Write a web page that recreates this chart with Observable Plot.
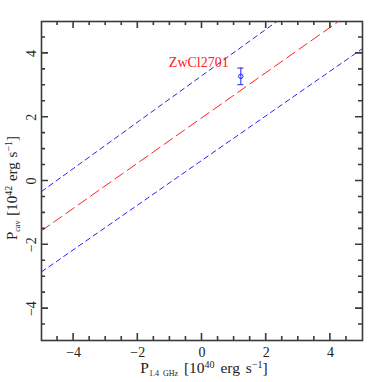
<!DOCTYPE html>
<html>
<head>
<meta charset="utf-8">
<script src="https://cdn.jsdelivr.net/npm/d3@7"></script>
<script src="https://cdn.jsdelivr.net/npm/@observablehq/plot@0.6"></script>
<style>
  html, body { margin: 0; padding: 0; background: #fff; }
  #chart svg { display: block; }
</style>
</head>
<body>
<div id="chart"></div>
<script>
// ---- data ----
const xMajor = [-4, -2, 0, 2, 4];
const yMajor = [-4, -2, 0, 2, 4];
const minorTicks = [-4.5, -3.5, -3, -2.5, -1.5, -1, -0.5, 0.5, 1, 1.5, 2.5, 3, 3.5, 4.5];
// fit line (red) and scatter bounds (blue), as endpoints
const fitLine = [{x: -5, y: -1.56}, {x: 4.25, y: 5}];
const upperLine = [{x: -5, y: -0.33}, {x: 2.33, y: 5}];
const lowerLine = [{x: -5, y: -2.85}, {x: 5, y: 4.15}];
// data point ZwCl2701
const pointName = ["ZwCl2701"];
const pointX = [1.21];
const pointY = [3.28];
const pointErr = [0.26];
const labelX = [-0.1];
const labelY = [3.72];

const points = pointName.map((n, i) => ({name: n, x: pointX[i], y: pointY[i], lo: pointY[i] - pointErr[i], hi: pointY[i] + pointErr[i], lx: labelX[i], ly: labelY[i]}));

const font = "Liberation Serif, Times New Roman, serif";
const frameColor = "#3a3a3a";
const W = 382, H = 382, ML = 41, MR = 20, MT = 21, MB = 42;
const majorLen = 7, minorLen = 4;
const fmt = d => d < 0 ? "\u2212" + Math.abs(d) : String(d);

const xs = d3.scaleLinear([-5, 5], [ML, W - MR]);
const ys = d3.scaleLinear([-5, 5], [H - MB, MT]);

const plot = Plot.plot({
  width: W,
  height: H,
  marginLeft: ML,
  marginRight: MR,
  marginTop: MT,
  marginBottom: MB,
  style: {fontFamily: font, background: "#fff"},
  x: {domain: [-5, 5], axis: null},
  y: {domain: [-5, 5], axis: null},
  marks: [
    // tick labels
    Plot.text(xMajor, {x: d => d, frameAnchor: "bottom", dy: 7, lineAnchor: "top", fontSize: 14, fill: "#222", text: fmt}),
    Plot.text(yMajor, {y: d => d, frameAnchor: "left", dx: -6, rotate: -90, textAnchor: "middle", lineAnchor: "bottom", fontSize: 14, fill: "#222", text: fmt}),
    Plot.frame({stroke: frameColor, strokeWidth: 1.6}),
    // lines
    Plot.line(upperLine, {x: "x", y: "y", stroke: "#2222ff", strokeWidth: 1, strokeDasharray: "5,4", clip: true}),
    Plot.line(lowerLine, {x: "x", y: "y", stroke: "#2222ff", strokeWidth: 1, strokeDasharray: "5,4", clip: true}),
    Plot.line(fitLine, {x: "x", y: "y", stroke: "#ff2020", strokeWidth: 1, strokeDasharray: "10,5", clip: true}),
    // error bar + point
    Plot.ruleX(points, {x: "x", y1: "lo", y2: "hi", stroke: "#2222ff", strokeWidth: 1}),
    Plot.ruleY(points, {y: "lo", x1: "x", x2: "x", insetLeft: -3, insetRight: -3, stroke: "#2222ff", strokeWidth: 1}),
    Plot.ruleY(points, {y: "hi", x1: "x", x2: "x", insetLeft: -3, insetRight: -3, stroke: "#2222ff", strokeWidth: 1}),
    Plot.dot(points, {x: "x", y: "y", r: 2.2, stroke: "#2222ff", strokeWidth: 1, fill: "none"}),
    Plot.text(points, {x: "lx", y: "ly", text: "name", fill: "#ff2020", fontSize: 14, textAnchor: "middle"})
  ]
});

document.getElementById("chart").append(plot);

const svg = d3.select(plot);

// inward ticks on all four sides (drawn as one path, positioned through Plot's scales)
let sxf = xs, syf = ys;
try {
  const psx = plot.scale("x"), psy = plot.scale("y");
  if (psx && typeof psx.apply === "function" && isFinite(psx.apply(0))) sxf = v => psx.apply(v);
  if (psy && typeof psy.apply === "function" && isFinite(psy.apply(0))) syf = v => psy.apply(v);
} catch (e) {}
const fTop = MT, fBottom = H - MB, fLeft = ML, fRight = W - MR;
let pathD = "";
function xTicks(vals, len) {
  for (const v of vals) {
    const px = sxf(v);
    pathD += `M${px},${fBottom}V${fBottom - len}M${px},${fTop}V${fTop + len}`;
  }
}
function yTicks(vals, len) {
  for (const v of vals) {
    const py = syf(v);
    pathD += `M${fLeft},${py}H${fLeft + len}M${fRight},${py}H${fRight - len}`;
  }
}
xTicks(xMajor, majorLen); xTicks(minorTicks, minorLen);
yTicks(yMajor, majorLen); yTicks(minorTicks, minorLen);
svg.append("path").attr("d", pathD).attr("fill", "none").attr("stroke", frameColor).attr("stroke-width", 1.6);

// axis titles with sub/superscripts
const xt = svg.append("text")
  .attr("x", 204).attr("y", 373)
  .attr("text-anchor", "middle")
  .attr("font-family", font).attr("font-size", 15.5).attr("word-spacing", 2).attr("fill", "#222");
xt.append("tspan").text("P");
xt.append("tspan").attr("font-size", 8).attr("dy", 3).text("1.4 GHz");
xt.append("tspan").attr("dy", -3).text(" [10");
xt.append("tspan").attr("font-size", 10).attr("dy", -5).text("40");
xt.append("tspan").attr("dy", 5).text(" erg s");
xt.append("tspan").attr("font-size", 10).attr("dy", -5).text("\u22121");
xt.append("tspan").attr("dy", 5).text("]");

const yt = svg.append("text")
  .attr("transform", "translate(17,188) rotate(-90)")
  .attr("text-anchor", "middle")
  .attr("font-family", font).attr("font-size", 15).attr("word-spacing", 1).attr("fill", "#222");
yt.append("tspan").text("P");
yt.append("tspan").attr("font-size", 8).attr("dy", 3).text("cav");
yt.append("tspan").attr("dy", -3).text(" [10");
yt.append("tspan").attr("font-size", 10).attr("dy", -5).text("42");
yt.append("tspan").attr("dy", 5).text(" erg s");
yt.append("tspan").attr("font-size", 10).attr("dy", -5).text("\u22121");
yt.append("tspan").attr("dy", 5).text("]");
</script>
</body>
</html>
